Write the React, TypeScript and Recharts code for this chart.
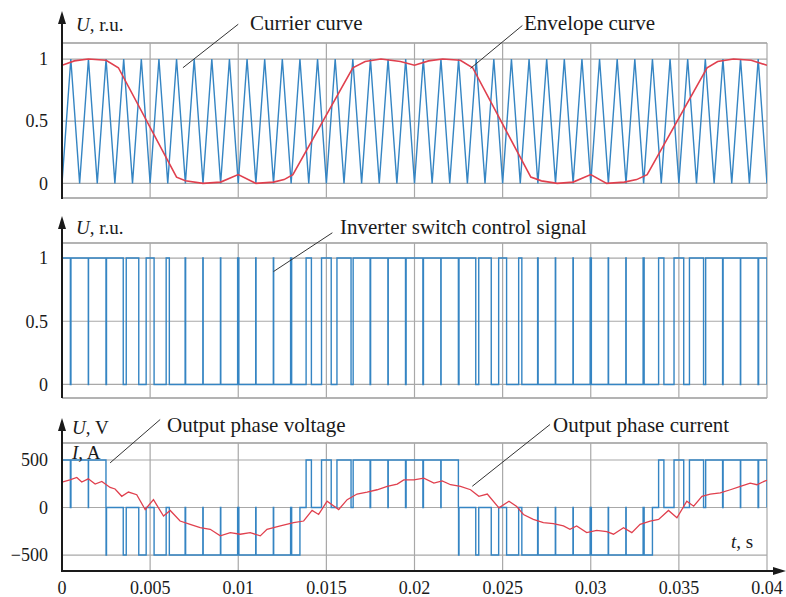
import React from "react";
import { LineChart, Line, XAxis, YAxis, CartesianGrid, ReferenceLine } from "recharts";

// time values are in ms, the charts use seconds
const xTicks = [0, 0.005, 0.01, 0.015, 0.02, 0.025, 0.03, 0.035, 0.04];

// carrier triangle vertices
const carrierMs = [
  0, 0.5, 1, 1.5, 2, 2.5, 3, 3.5, 4, 4.5, 5, 5.5, 6, 6.5, 7, 7.5, 8, 8.5, 9, 9.5,
  10, 10.5, 11, 11.5, 12, 12.5, 13, 13.5, 14, 14.5, 15, 15.5, 16, 16.5, 17, 17.5, 18, 18.5, 19, 19.5,
  20, 20.5, 21, 21.5, 22, 22.5, 23, 23.5, 24, 24.5, 25, 25.5, 26, 26.5, 27, 27.5, 28, 28.5, 29, 29.5,
  30, 30.5, 31, 31.5, 32, 32.5, 33, 33.5, 34, 34.5, 35, 35.5, 36, 36.5, 37, 37.5, 38, 38.5, 39, 39.5, 40,
];
const carrierU = [
  0, 1, 0, 1, 0, 1, 0, 1, 0, 1, 0, 1, 0, 1, 0, 1, 0, 1, 0, 1,
  0, 1, 0, 1, 0, 1, 0, 1, 0, 1, 0, 1, 0, 1, 0, 1, 0, 1, 0, 1,
  0, 1, 0, 1, 0, 1, 0, 1, 0, 1, 0, 1, 0, 1, 0, 1, 0, 1, 0, 1,
  0, 1, 0, 1, 0, 1, 0, 1, 0, 1, 0, 1, 0, 1, 0, 1, 0, 1, 0, 1, 0,
];

// envelope (red) curve
const envelopeMs = [
  0, 0.7, 1.5, 2.5, 3.2, 6.5, 7.0, 8.0, 9.0, 10.0, 11.0, 12.0, 12.6, 13.1,
  16.5, 17.2, 18.1, 19.2, 20.0, 20.8, 21.6, 22.6, 23.3, 26.6, 27.2, 28.1, 29.0, 30.0,
  30.9, 31.9, 32.6, 33.2, 36.6, 37.2, 38.1, 39.1, 40.0,
];
const envelopeU = [
  0.95, 0.985, 1.0, 0.99, 0.93, 0.05, 0.02, 0.0, 0.01, 0.07, 0.0, 0.01, 0.03, 0.07,
  0.93, 0.98, 1.0, 0.98, 0.95, 0.985, 1.0, 0.99, 0.93, 0.05, 0.02, 0.0, 0.01, 0.07,
  0.0, 0.01, 0.03, 0.07, 0.93, 0.98, 1.0, 0.99, 0.95,
];

// switching pulses, one per carrier trough
const switchMs = [
  0, 1, 2, 3, 4, 5, 6, 7, 8, 9, 10, 11, 12, 13, 14, 15, 16, 17, 18, 19, 20,
  21, 22, 23, 24, 25, 26, 27, 28, 29, 30, 31, 32, 33, 34, 35, 36, 37, 38, 39, 40,
];
const pulseWidthMs = [
  0.95, 0.985, 0.99, 0.95, 0.71, 0.45, 0.18, 0.03, 0.02, 0.02,
  0.07, 0.02, 0.02, 0.06, 0.3, 0.55, 0.8, 0.96, 0.98, 0.98,
  0.95, 0.985, 0.98, 0.95, 0.71, 0.45, 0.18, 0.03, 0.02, 0.02,
  0.07, 0.02, 0.02, 0.06, 0.3, 0.55, 0.8, 0.96, 0.98, 0.985, 0.95,
];
const voltageLow = [
  0, 0, 0, -500, -500, -500, -500, -500, -500, -500, -500, -500, -500, -500,
  0, 0, 0, 0, 0, 0, 0, 0, 0,
  -500, -500, -500, -500, -500, -500, -500, -500, -500, -500, -500,
  0, 0, 0, 0, 0, 0, 0,
];
const voltageStep = 500;

// output phase current (red)
const currentMs = [
  0, 0.45, 0.84, 1.12, 1.49, 1.88, 2.26, 2.73, 3.01, 3.39, 3.77, 4.24, 4.72, 5.19, 5.76, 6.14,
  6.7, 7.27, 7.84, 8.41, 8.98, 9.55, 10.11, 10.68, 11.25, 11.63, 12.39, 13.14, 13.71, 14.19,
  14.56, 15.04, 15.7, 16.18, 16.74, 17.31, 17.88, 18.45, 19.02, 19.39, 19.96, 20.53, 21.1,
  21.57, 22.05, 22.61, 23.18, 23.65, 24.13, 24.79, 25.36, 25.8, 26.18, 26.74, 27.31, 27.88,
  28.45, 28.82, 29.2, 29.77, 30.34, 30.91, 31.29, 31.86, 32.33, 32.8, 33.37, 33.85, 34.41,
  34.89, 35.45, 35.84, 36.31, 36.78, 37.35, 37.92, 38.49, 39.05, 39.43, 39.9, 40,
];
const currentA = [
  268, 291, 316, 268, 302, 247, 274, 211, 195, 118, 163, 135, -21, 83, -90, -31,
  -142, -177, -211, -229, -298, -264, -281, -264, -298, -229, -194, -160, -142, -31,
  -73, 66, -21, 83, 142, 163, 187, 222, 247, 291, 291, 309, 257,
  281, 240, 222, 187, 118, 142, -3, 66, 10, -73, -125, -160, -170,
  -194, -229, -194, -264, -240, -253, -281, -212, -264, -177, -142, -125, -31,
  -108, 66, 14, 118, 142, 153, 187, 222, 257, 240, 281, 285,
];

const toRows = (ms: number[], v: number[]) => ms.map((t, i) => ({ t: t / 1000, v: v[i] }));

const pick = (x: number | number[], i: number) => (Array.isArray(x) ? x[i] : x);

function pulseTrain(centers: number[], widths: number[], low: number | number[], high: number | number[]) {
  const end = centers[centers.length - 1];
  const rows: { t: number; v: number }[] = [];
  centers.forEach((c, i) => {
    const lo = pick(low, i);
    const hi = pick(high, i);
    const a = Math.max(0, c - 0.5);
    const b = Math.min(end, c + 0.5);
    const on = Math.max(a, c - widths[i] / 2);
    const off = Math.min(b, c + widths[i] / 2);
    rows.push({ t: a, v: lo }, { t: on, v: lo }, { t: on, v: hi }, { t: off, v: hi }, { t: off, v: lo }, { t: b, v: lo });
  });
  return rows.map((r) => ({ t: r.t / 1000, v: r.v }));
}

const carrierData = toRows(carrierMs, carrierU);
const envelopeData = toRows(envelopeMs, envelopeU);
const switchData = pulseTrain(switchMs, pulseWidthMs, 0, 1);
const voltageData = pulseTrain(
  switchMs,
  pulseWidthMs,
  voltageLow,
  voltageLow.map((v) => v + voltageStep)
);
const currentData = toRows(currentMs, currentA);

const FONT = '"Liberation Serif", "Times New Roman", serif';
const BLUE = "#3585c3";
const RED = "#e0404e";
const GRID = "#a8a8a8";
const INK = "#1a1a1a";

const YTick = (props: any) => {
  const { x, y, payload, fmt } = props;
  return (
    <text x={x - 6} y={y} dy="0.35em" textAnchor="end" fontFamily={FONT} fontSize={18} fill={INK}>
      {fmt ? fmt(payload.value) : payload.value}
    </text>
  );
};

const XTick = (props: any) => {
  const { x, y, payload } = props;
  return (
    <text x={x} y={y} dy="0.85em" textAnchor="middle" fontFamily={FONT} fontSize={18} fill={INK}>
      {payload.value}
    </text>
  );
};

const fmtVolt = (v: number) => (v < 0 ? "\u2212" + Math.abs(v) : String(v));

const ru = [-0.118, 1.129];
const volt = [-668, 679];

export default function App() {
  return (
    <div style={{ position: "absolute", left: 0, top: 0, width: 786, height: 597, background: "#fff", fontFamily: FONT }}>
      {/* panel 1: carrier and envelope */}
      <div style={{ position: "absolute", left: 0, top: 0 }}>
        <LineChart width={786} height={210} margin={{ top: 43, right: 19, bottom: 12, left: 0 }}>
          <CartesianGrid stroke={GRID} strokeWidth={1.2} />
          <XAxis dataKey="t" type="number" domain={[0, 0.04]} ticks={xTicks} hide allowDataOverflow />
          <YAxis type="number" domain={ru} ticks={[0, 0.5, 1]} width={62} axisLine={false} tickLine={false} tick={<YTick />} allowDataOverflow />
          <ReferenceLine y={ru[1]} stroke={GRID} strokeWidth={1.5} />
          <ReferenceLine y={ru[0]} stroke={GRID} strokeWidth={1.5} />
          <Line data={carrierData} dataKey="v" type="linear" stroke={BLUE} strokeWidth={1.4} dot={false} isAnimationActive={false} />
          <Line data={envelopeData} dataKey="v" type="linear" stroke={RED} strokeWidth={1.6} dot={false} isAnimationActive={false} />
          <ReferenceLine segment={[{ x: 0.01, y: 1.28 }, { x: 0.00686, y: 0.93 }]} stroke="#333" strokeWidth={1} ifOverflow="visible" />
          <ReferenceLine segment={[{ x: 0.02612, y: 1.27 }, { x: 0.02318, y: 0.925 }]} stroke="#333" strokeWidth={1} ifOverflow="visible" />
        </LineChart>
      </div>

      {/* panel 2: switch control signal */}
      <div style={{ position: "absolute", left: 0, top: 210 }}>
        <LineChart width={786} height={200} margin={{ top: 33, right: 19, bottom: 12, left: 0 }}>
          <CartesianGrid stroke={GRID} strokeWidth={1.2} />
          <XAxis dataKey="t" type="number" domain={[0, 0.04]} ticks={xTicks} hide allowDataOverflow />
          <YAxis type="number" domain={[-0.107, 1.119]} ticks={[0, 0.5, 1]} width={62} axisLine={false} tickLine={false} tick={<YTick />} allowDataOverflow />
          <ReferenceLine y={1.119} stroke={GRID} strokeWidth={1.5} />
          <ReferenceLine y={-0.107} stroke={GRID} strokeWidth={1.5} />
          <Line data={switchData} dataKey="v" type="linear" stroke={BLUE} strokeWidth={1.4} dot={false} isAnimationActive={false} />
          <ReferenceLine segment={[{ x: 0.01534, y: 1.2 }, { x: 0.012, y: 0.893 }]} stroke="#333" strokeWidth={1} ifOverflow="visible" />
        </LineChart>
      </div>

      {/* panel 3: output voltage and current */}
      <div style={{ position: "absolute", left: 0, top: 410 }}>
        <LineChart width={786} height={187} margin={{ top: 33, right: 19, bottom: 0, left: 0 }}>
          <CartesianGrid stroke={GRID} strokeWidth={1.2} />
          <XAxis dataKey="t" type="number" domain={[0, 0.04]} ticks={xTicks} height={26} axisLine={false} tickLine={false} tick={<XTick />} allowDataOverflow />
          <YAxis type="number" domain={volt} ticks={[-500, 0, 500]} width={62} axisLine={false} tickLine={false} tick={<YTick fmt={fmtVolt} />} allowDataOverflow />
          <ReferenceLine y={volt[1]} stroke={GRID} strokeWidth={1.5} />
          <Line data={voltageData} dataKey="v" type="linear" stroke={BLUE} strokeWidth={1.4} dot={false} isAnimationActive={false} />
          <Line data={currentData} dataKey="v" type="linear" stroke={RED} strokeWidth={1.3} dot={false} isAnimationActive={false} />
          <ReferenceLine segment={[{ x: 0.00557, y: 926 }, { x: 0.00273, y: 470 }]} stroke="#333" strokeWidth={1} ifOverflow="visible" />
          <ReferenceLine segment={[{ x: 0.02769, y: 874 }, { x: 0.02328, y: 224 }]} stroke="#333" strokeWidth={1} ifOverflow="visible" />
        </LineChart>
      </div>

      {/* axes arrows and labels */}
      <svg width={786} height={597} style={{ position: "absolute", left: 0, top: 0, pointerEvents: "none" }}>
        <g stroke={INK} strokeWidth={2}>
          <line x1={62} y1={199} x2={62} y2={20} />
          <line x1={62} y1={398} x2={62} y2={225} />
          <line x1={62} y1={572} x2={62} y2={427} />
          <line x1={61} y1={571} x2={776} y2={571} />
        </g>
        <g fill={INK}>
          <polygon points="62,11 58,24 66,24" />
          <polygon points="62,216 58,229 66,229" />
          <polygon points="62,418 58,431 66,431" />
          <polygon points="786,571 773,567 773,575" />
        </g>
        <g fontFamily={FONT} fill={INK}>
          <text x={76} y={31} fontSize={19}><tspan fontStyle="italic">U</tspan>, r.u.</text>
          <text x={250} y={30} fontSize={21}>Currier curve</text>
          <text x={524} y={30} fontSize={21}>Envelope curve</text>
          <text x={76} y={234} fontSize={19}><tspan fontStyle="italic">U</tspan>, r.u.</text>
          <text x={340} y={234} fontSize={21}>Inverter switch control signal</text>
          <text x={72} y={434} fontSize={19}><tspan fontStyle="italic">U</tspan>, V</text>
          <text x={72} y={459} fontSize={19}><tspan fontStyle="italic">I</tspan>, A</text>
          <text x={167} y={432} fontSize={21}>Output phase voltage</text>
          <text x={553} y={432} fontSize={21}>Output phase current</text>
          <text x={731} y={548} fontSize={19}><tspan fontStyle="italic">t</tspan>, s</text>
        </g>
      </svg>
    </div>
  );
}
